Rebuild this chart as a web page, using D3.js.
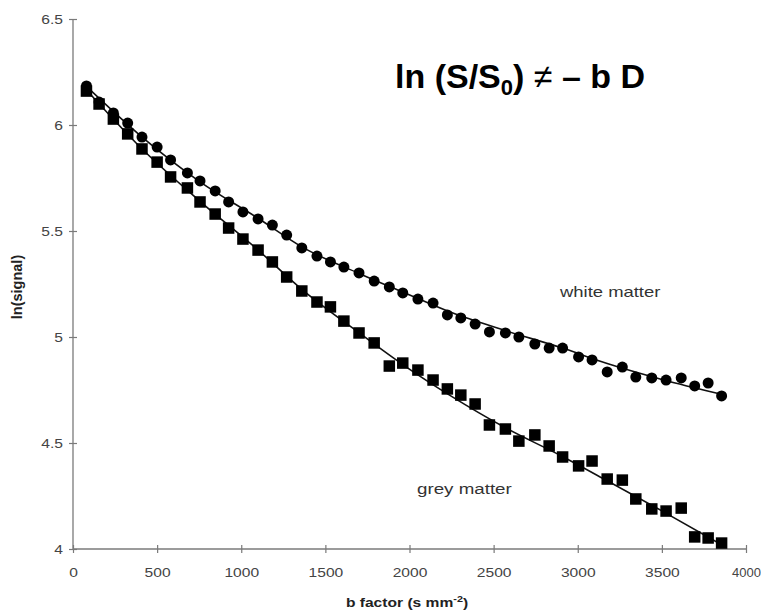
<!DOCTYPE html>
<html>
<head>
<meta charset="utf-8">
<script src="https://cdn.jsdelivr.net/npm/d3@7"></script>
<style>
  html, body { margin: 0; padding: 0; background: #fff; }
  svg { display: block; }
</style>
</head>
<body>
<svg id="chart" width="761" height="613"></svg>
<script>
// ---- data ----
const bValues = [80, 155, 240, 325, 410, 500, 580, 680, 755, 845, 925, 1010, 1100, 1185, 1270,
  1360, 1450, 1530, 1610, 1700, 1790, 1880, 1960, 2050, 2140, 2225, 2305, 2390, 2475, 2570,
  2650, 2745, 2830, 2910, 3005, 3085, 3175, 3265, 3345, 3440, 3525, 3615, 3695, 3775, 3855];
const whiteMatter = [6.184, 6.108, 6.057, 6.009, 5.943, 5.896, 5.835, 5.774, 5.736, 5.689,
  5.637, 5.590, 5.557, 5.528, 5.481, 5.420, 5.382, 5.354, 5.330, 5.302, 5.264, 5.236, 5.208,
  5.179, 5.160, 5.104, 5.090, 5.061, 5.024, 5.019, 5.000, 4.967, 4.948, 4.948, 4.906, 4.892,
  4.835, 4.858, 4.811, 4.807, 4.797, 4.807, 4.769, 4.783, 4.722];
const greyMatter = [6.160, 6.099, 6.028, 5.958, 5.887, 5.825, 5.755, 5.703, 5.637, 5.580,
  5.514, 5.462, 5.410, 5.354, 5.283, 5.217, 5.165, 5.142, 5.075, 5.019, 4.972, 4.863, 4.877,
  4.844, 4.797, 4.755, 4.726, 4.684, 4.585, 4.566, 4.509, 4.538, 4.486, 4.434, 4.392, 4.415,
  4.330, 4.325, 4.236, 4.189, 4.179, 4.193, 4.057, 4.052, 4.028];
// fitted curves
const fitB = [80, 400, 755, 1100, 1360, 1700, 1960, 2250, 2570, 2900, 3175, 3500, 3855];
const whiteFit = [6.182, 5.950, 5.732, 5.560, 5.425, 5.300, 5.212, 5.115, 5.030, 4.950, 4.875, 4.800, 4.730];
const greyFit = [6.165, 5.895, 5.640, 5.410, 5.225, 5.020, 4.870, 4.720, 4.572, 4.440, 4.322, 4.180, 4.020];
const xTicks = [0, 500, 1000, 1500, 2000, 2500, 3000, 3500, 4000];
const yTicks = [4, 4.5, 5, 5.5, 6, 6.5];

// ---- layout ----
const svg = d3.select("#chart");
const x = d3.scaleLinear().domain([0, 4000]).range([73, 746]);
const y = d3.scaleLinear().domain([4, 6.5]).range([549, 19]);
const axisColor = "#7a7a7a";
const stretch = 1.2;

// y axis
const yAxis = svg.append("g").attr("transform", `translate(${x(0)},0)`)
  .call(d3.axisLeft(y).tickValues(yTicks).tickSize(4).tickFormat(d3.format("")));
yAxis.select(".domain").attr("stroke", axisColor).attr("stroke-width", 1.3)
  .attr("d", `M0,${y(6.5)}V${y(4)}`);
yAxis.selectAll(".tick line").attr("stroke", axisColor).attr("x1", 4).attr("x2", -4).attr("stroke-width", 1.2);
yAxis.selectAll(".tick text")
  .attr("x", null).attr("dy", null)
  .attr("font-family", "Liberation Sans, Arial, sans-serif").attr("font-size", 13)
  .attr("fill", "#444").attr("text-anchor", "end")
  .attr("transform", `translate(-10,4.6) scale(${stretch},1)`);

// x axis
const xAxis = svg.append("g").attr("transform", `translate(0,${y(4)})`)
  .call(d3.axisBottom(x).tickValues(xTicks).tickSize(4).tickFormat(d3.format("")));
xAxis.select(".domain").attr("stroke", axisColor).attr("stroke-width", 1.3)
  .attr("d", `M${x(0)},0H${x(4000)}`);
xAxis.selectAll(".tick line").attr("stroke", axisColor).attr("y1", -4).attr("y2", 4).attr("stroke-width", 1.2);
xAxis.selectAll(".tick text")
  .attr("y", null).attr("dy", null)
  .attr("font-family", "Liberation Sans, Arial, sans-serif").attr("font-size", 13)
  .attr("fill", "#444")
  .attr("transform", d => d === 4000 ? `translate(0,28) scale(1.0,1)` : `translate(0,28) scale(${stretch},1)`);

// fitted lines
const line = d3.line().x(d => x(d[0])).y(d => y(d[1])).curve(d3.curveMonotoneX);
svg.append("path").datum(fitB.map((b, i) => [b, whiteFit[i]]))
  .attr("d", line).attr("fill", "none").attr("stroke", "#111").attr("stroke-width", 1.6);
svg.append("path").datum(fitB.map((b, i) => [b, greyFit[i]]))
  .attr("d", line).attr("fill", "none").attr("stroke", "#111").attr("stroke-width", 1.6);

// grey matter squares
const sq = 11.5;
svg.append("g").selectAll("rect").data(bValues.map((b, i) => [b, greyMatter[i]]))
  .join("rect")
  .attr("x", d => x(d[0]) - sq / 2).attr("y", d => y(d[1]) - sq / 2)
  .attr("width", sq).attr("height", sq).attr("fill", "#000");

// white matter circles
svg.append("g").selectAll("circle").data(bValues.map((b, i) => [b, whiteMatter[i]]))
  .join("circle")
  .attr("cx", d => x(d[0])).attr("cy", d => y(d[1])).attr("r", 5.5).attr("fill", "#000");

// series labels
svg.append("text").text("white matter")
  .attr("transform", `translate(560,297) scale(1.23,1)`)
  .attr("font-family", "Liberation Sans, Arial, sans-serif").attr("font-size", 15).attr("fill", "#333");
svg.append("text").text("grey matter")
  .attr("transform", `translate(417,494) scale(1.25,1)`)
  .attr("font-family", "Liberation Sans, Arial, sans-serif").attr("font-size", 15).attr("fill", "#333");

// axis titles
const xl = svg.append("text")
  .attr("transform", `translate(407,607) scale(${stretch},1)`)
  .attr("text-anchor", "middle")
  .attr("font-family", "Liberation Sans, Arial, sans-serif").attr("font-size", 13)
  .attr("font-weight", "bold").attr("fill", "#222");
xl.append("tspan").text("b factor (s mm");
xl.append("tspan").text("-2").attr("font-size", 9).attr("dy", -5);
xl.append("tspan").text(")").attr("dy", 5);

svg.append("text").text("ln(signal)")
  .attr("transform", `translate(22,287) rotate(-90)`)
  .attr("text-anchor", "middle")
  .attr("font-family", "Liberation Sans, Arial, sans-serif").attr("font-size", 14.5)
  .attr("font-weight", "bold").attr("fill", "#222");

// equation title
const t = svg.append("text")
  .attr("x", 395).attr("y", 88)
  .attr("font-family", "Liberation Sans, Arial, sans-serif").attr("font-size", 34)
  .attr("font-weight", "bold").attr("fill", "#000");
t.append("tspan").text("ln (S/S");
t.append("tspan").text("0").attr("font-size", 22).attr("dy", 7);
t.append("tspan").text(") ").attr("dy", -7);
t.append("tspan").text("≠").attr("font-weight", "normal");
t.append("tspan").text(" – b D");
</script>
</body>
</html>
